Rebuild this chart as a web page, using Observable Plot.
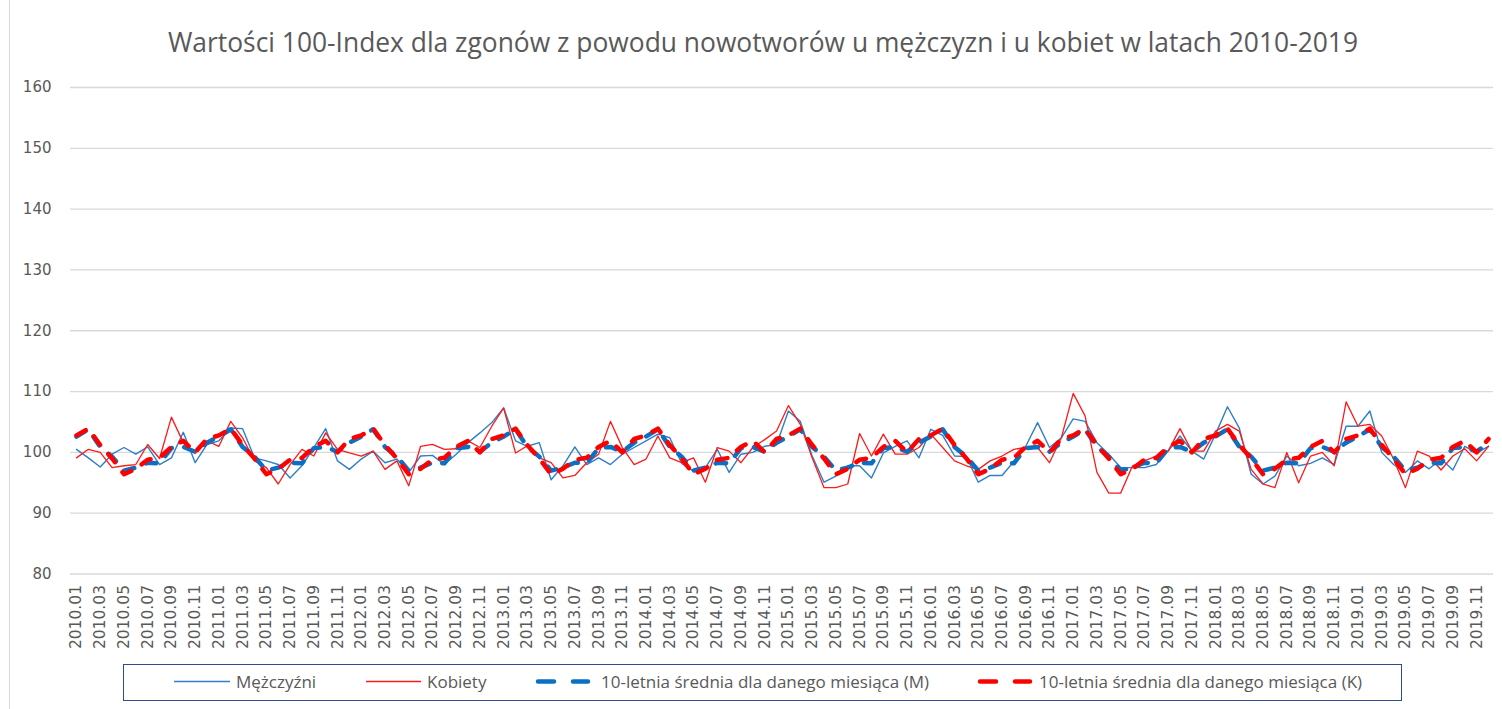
<!DOCTYPE html>
<html>
<head>
<meta charset="utf-8">
<script src="https://cdn.jsdelivr.net/npm/d3@7"></script>
<script src="https://cdn.jsdelivr.net/npm/@observablehq/plot@0.6"></script>
<style>
  body { margin: 0; background: #fff; }
  #wrap { position: relative; width: 1502px; height: 709px; overflow: hidden; background: #fff; font-family: "Open Sans", sans-serif; }
  #frame { position: absolute; left: 9px; top: 0; width: 1px; height: 709px; background: #d9d9d9; }
  #title { position: absolute; left: 0; top: 28.6px; width: 1526px; text-align: center; font-size: 26.4px; line-height: 26.4px; color: #595959; white-space: nowrap; }
  #chart { position: absolute; left: 0; top: 0; }
  #legend { position: absolute; left: 123px; top: 664px; width: 1279px; height: 37px; border: 1.5px solid #2f4d8c; box-sizing: border-box; }
  #legsvg { position: absolute; left: 0; top: 0; }
  .lt { position: absolute; font-size: 17px; line-height: 17px; color: #595959; white-space: nowrap; }
</style>
</head>
<body>
<div id="wrap">
  <div id="chart"></div>
  <div id="frame"></div>
  <div id="title"></div>
  <div id="legend"></div>
</div>
<script>
// ---------- data ----------
const years = ["2010","2011","2012","2013","2014","2015","2016","2017","2018","2019"];
const monthCodes = ["01","02","03","04","05","06","07","08","09","10","11","12"];
const yTicks = [80, 90, 100, 110, 120, 130, 140, 150, 160];

const titleText = "Wartości 100-Index dla zgonów z powodu nowotworów u mężczyzn i u kobiet w latach 2010-2019";
const seriesNames = ["Mężczyźni", "Kobiety", "10-letnia średnia dla danego miesiąca (M)", "10-letnia średnia dla danego miesiąca (K)"];

// Mężczyźni, 2010.01 - 2019.12
const men = [
  100.5, 99.1, 97.6, 99.7, 100.8, 99.7, 100.9, 98.0, 99.1, 103.3, 98.3, 101.3,
  101.9, 104.0, 103.9, 99.1, 98.6, 98.0, 95.8, 97.8, 100.8, 103.9, 98.6, 97.2,
  98.9, 100.2, 98.3, 98.9, 96.7, 99.4, 99.5, 98.0, 99.7, 101.6, 103.2, 104.9,
  107.3, 101.9, 101.0, 101.6, 95.5, 97.8, 100.9, 98.0, 99.1, 98.0, 99.7, 100.8,
  101.9, 103.0, 102.4, 98.2, 96.9, 97.5, 100.5, 96.7, 99.7, 100.0, 101.0, 101.3,
  106.8, 105.1, 99.4, 95.1, 96.1, 97.8, 97.8, 95.8, 99.9, 101.0, 101.9, 99.1,
  103.8, 102.8, 99.4, 99.3, 95.1, 96.2, 96.2, 98.5, 101.0, 104.9, 100.8, 102.4,
  105.5, 105.1, 101.6, 99.7, 97.5, 97.5, 97.5, 98.0, 100.2, 102.7, 100.2, 98.9,
  103.0, 107.5, 104.0, 96.4, 94.8, 96.1, 99.4, 97.8, 98.2, 99.1, 98.0, 104.3,
  104.3, 106.8, 100.0, 98.0, 96.7, 98.6, 97.3, 98.9, 97.1, 101.0, 99.9, 101.0
];
// Kobiety, 2010.01 - 2019.12
const women = [
  99.1, 100.5, 100.0, 97.5, 97.8, 98.0, 101.3, 99.0, 105.8, 101.6, 99.8, 101.9,
  101.0, 105.1, 102.4, 98.6, 97.5, 94.8, 98.0, 100.5, 99.4, 103.2, 100.5, 99.9,
  99.4, 100.2, 97.2, 98.6, 94.5, 101.0, 101.3, 100.5, 100.6, 101.9, 100.8, 104.3,
  107.3, 99.9, 101.1, 99.1, 98.3, 95.8, 96.2, 98.3, 99.7, 105.1, 100.8, 98.0,
  98.9, 102.7, 99.1, 98.3, 99.1, 95.1, 100.8, 100.2, 98.3, 100.8, 102.1, 103.5,
  107.7, 104.6, 99.1, 94.2, 94.2, 94.8, 103.1, 99.4, 103.0, 99.7, 99.7, 100.8,
  103.0, 100.8, 98.6, 97.8, 97.2, 98.6, 99.4, 100.5, 100.8, 100.8, 98.3, 102.4,
  109.7, 106.0, 96.7, 93.3, 93.3, 97.8, 98.6, 99.4, 100.2, 103.9, 100.2, 100.2,
  103.5, 104.6, 103.5, 97.2, 94.8, 94.2, 100.0, 95.0, 99.4, 100.0, 97.8, 108.3,
  104.3, 104.6, 102.7, 98.9, 94.2, 100.2, 99.4, 97.1, 99.4, 100.6, 98.6, 101.0
];
// 10-letnia średnia dla danego miesiąca (styczeń..grudzień)
const avgMen   = [102.6, 103.8, 100.9, 99.3, 97.0, 97.5, 98.3, 98.2, 100.7, 100.9, 100.1, 101.6];
const avgWomen = [102.8, 103.9, 101.2, 99.0, 96.4, 97.3, 98.8, 99.1, 100.9, 101.9, 100.0, 102.2];

// ---------- table ----------
const labels = years.flatMap(y => monthCodes.map(m => y + "." + m));
const rows = labels.map((label, i) => ({
  i, label,
  men: men[i], women: women[i],
  am: avgMen[i % 12], aw: avgWomen[i % 12]
}));
const xTicks = rows.filter(d => d.i % 2 === 0).map(d => d.i);

const dash = "10.5,12.5";
const chart = Plot.plot({
  width: 1502,
  height: 660,
  marginLeft: 70,
  marginRight: 9,
  marginTop: 87,
  marginBottom: 86.5,
  style: { fontFamily: "DejaVu Sans", fontSize: "15px", color: "#595959", background: "transparent", overflow: "visible" },
  x: { type: "linear", domain: [0, labels.length - 1], range: [76, 1488] },
  y: { domain: [80, 160] },
  marks: [
    Plot.ruleY(yTicks, { stroke: "#d9d9d9", strokeWidth: 1.3 }),
    Plot.axisY({ ticks: yTicks, tickSize: 0, tickPadding: 19, label: null, fill: "#595959", fontSize: 15, fontFamily: "DejaVu Sans" }),
    Plot.axisX({ ticks: xTicks, tickFormat: i => labels[i], tickRotate: -90, tickSize: 0, tickPadding: 11, label: null, fill: "#595959", fontSize: 15.5, fontFamily: "DejaVu Sans" }),
    Plot.line(rows, { x: "i", y: "men", stroke: "#2f7fc6", strokeWidth: 1.4 }),
    Plot.line(rows, { x: "i", y: "women", stroke: "#ff1a1a", strokeWidth: 1.3 }),
    Plot.line(rows, { x: "i", y: "am", stroke: "#0b6fc4", strokeWidth: 4.5, strokeDasharray: dash, strokeLinecap: "round" }),
    Plot.line(rows, { x: "i", y: "aw", stroke: "#ff0000", strokeWidth: 4.5, strokeDasharray: dash, strokeLinecap: "round" })
  ]
});
document.getElementById("chart").appendChild(chart);
document.getElementById("title").textContent = titleText;

// ---------- legend ----------
const legend = document.getElementById("legend");
const items = [
  { name: seriesNames[0], color: "#2f7fc6", w: 1.4, dashed: false, x1: 50, x2: 106, tx: 112 },
  { name: seriesNames[1], color: "#ff1a1a", w: 1.3, dashed: false, x1: 242, x2: 297, tx: 303 },
  { name: seriesNames[2], color: "#0b6fc4", w: 4.5, dashed: true, x1: 412, x2: 464, tx: 477 },
  { name: seriesNames[3], color: "#ff0000", w: 4.5, dashed: true, x1: 854, x2: 906, tx: 915 }
];
const ns = "http://www.w3.org/2000/svg";
const lsvg = document.createElementNS(ns, "svg");
lsvg.setAttribute("id", "legsvg");
lsvg.setAttribute("width", 1276);
lsvg.setAttribute("height", 34);
items.forEach(it => {
  const ln = document.createElementNS(ns, "line");
  ln.setAttribute("x1", it.x1); ln.setAttribute("x2", it.x2);
  ln.setAttribute("y1", 16.5); ln.setAttribute("y2", 16.5);
  ln.setAttribute("stroke", it.color);
  ln.setAttribute("stroke-width", it.w);
  if (it.dashed) { ln.setAttribute("stroke-dasharray", "16,19"); ln.setAttribute("stroke-linecap", "round"); ln.setAttribute("x1", it.x1 + 2); }
  lsvg.appendChild(ln);
  const t = document.createElement("div");
  t.className = "lt";
  t.style.left = it.tx + "px";
  t.style.top = "7.5px";
  t.textContent = it.name;
  legend.appendChild(t);
});
legend.appendChild(lsvg);
</script>
</body>
</html>
